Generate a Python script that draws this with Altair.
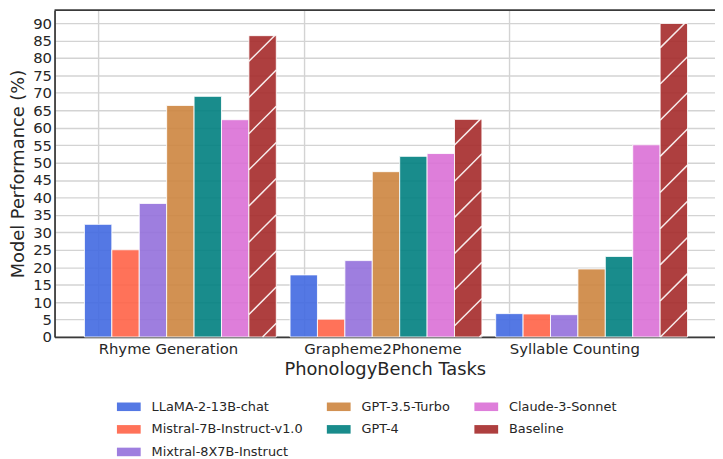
import json
import altair as alt
import pandas as pd

# ---------------- data ----------------
tasks = ["Rhyme Generation", "Grapheme2Phoneme", "Syllable Counting"]
models = [
    "LLaMA-2-13B-chat",
    "Mistral-7B-Instruct-v1.0",
    "Mixtral-8X7B-Instruct",
    "GPT-3.5-Turbo",
    "GPT-4",
    "Claude-3-Sonnet",
    "Baseline",
]
llama = [32.3, 17.8, 6.7]
mistral = [25.0, 5.1, 6.6]
mixtral = [38.3, 21.9, 6.4]
gpt35 = [66.4, 47.4, 19.5]
gpt4 = [69.0, 51.8, 23.1]
claude = [62.3, 52.6, 55.1]
baseline = [86.4, 62.4, 89.9]
series = [llama, mistral, mixtral, gpt35, gpt4, claude, baseline]
colors = ["#4169E1", "#FF6347", "#9370DB", "#CD853F", "#008080", "#DA70D6", "#A52A2A"]
y_ticks = list(range(0, 95, 5))

# ---------------- layout constants ----------------
BAR_W = 0.1333
X_DOMAIN = [-0.212, 3.0]
Y_DOMAIN = [0, 93.7]
W, H = 667, 330
TEXT = "#262626"
SPINE = "#3a3a3a"
GRID = "#d3d3d3"
FONT = "DejaVu Sans"

rows = []
for mi, (m, vals) in enumerate(zip(models, series)):
    for ti, (t, v) in enumerate(zip(tasks, vals)):
        rows.append({"task": t, "model": m, "value": v, "ti": ti, "mi": mi})
df = pd.DataFrame(rows)

# hatch ("/") segments for the Baseline bars, derived from the baseline values
S = (W / (X_DOMAIN[1] - X_DOMAIN[0])) / (H / (Y_DOMAIN[1] - Y_DOMAIN[0]))
P = 10.37
C = 4.7
hatch = []
bi = models.index("Baseline")
for ti, T in enumerate(baseline):
    xl = ti + bi * BAR_W - BAR_W / 2
    xr = xl + BAR_W
    vl = (S * xl + C) % P - P
    while vl < T:
        vr = vl + S * BAR_W
        if vr > 0:
            x1, y1, x2, y2 = xl, vl, xr, vr
            if vl < 0:
                x1, y1 = xl + (-vl) / S, 0.0
            if vr > T:
                x2, y2 = xl + (T - vl) / S, T
            hatch.append({"xl": x1, "xr": x2, "value": y1, "value2": y2})
        vl += P
hdf = pd.DataFrame(hatch)

# legend order arranged so that a row-major layout reproduces the column-major legend
legend_order = [models[i] for i in [0, 3, 5, 1, 4, 6, 2]]
legend_colors = [colors[models.index(m)] for m in legend_order]

label_expr = json.dumps(tasks) + "[datum.value]"

x_enc = alt.X(
    "xl:Q",
    scale=alt.Scale(domain=X_DOMAIN, nice=False, zero=False),
    axis=alt.Axis(
        values=[0, 1, 2],
        labelExpr=label_expr,
        labelAlign="left",
        title="PhonologyBench Tasks",
    ),
)
y_enc = alt.Y(
    "value:Q",
    scale=alt.Scale(domain=Y_DOMAIN, nice=False),
    axis=alt.Axis(values=y_ticks, title="Model Performance (%)"),
)

bars = (
    alt.Chart(df)
    .transform_calculate(
        xl=f"datum.ti + datum.mi * {BAR_W} - {BAR_W / 2}",
        xr=f"datum.ti + datum.mi * {BAR_W} + {BAR_W / 2}",
    )
    .mark_bar(fillOpacity=0.9, stroke="white", strokeWidth=1, strokeOpacity=0.85)
    .encode(
        x=x_enc,
        x2="xr:Q",
        y=y_enc,
        y2=alt.datum(0),
        color=alt.Color(
            "model:N",
            scale=alt.Scale(domain=legend_order, range=legend_colors),
            legend=alt.Legend(
                title=None,
                values=legend_order,
                orient="none",
                direction="horizontal",
                legendX=63,
                legendY=388.5,
                columns=3,
                columnPadding=24,
                rowPadding=3.8,
                symbolType="M-1,-0.36L1,-0.36L1,0.36L-1,0.36Z",
                symbolSize=576,
                symbolStrokeWidth=0,
                symbolOpacity=0.9,
                labelOffset=11,
                labelFontSize=13,
                labelLimit=400,
                labelColor=TEXT,
                labelFont=FONT,
                padding=0,
            ),
        ),
    )
)

hatch_layer = (
    alt.Chart(hdf)
    .mark_rule(color="white", strokeWidth=1.5, opacity=0.9)
    .encode(x=x_enc, x2="xr:Q", y=y_enc, y2="value2:Q")
)

top_spine = (
    alt.Chart(pd.DataFrame({"a": [0]}))
    .mark_rule(color=SPINE, strokeWidth=1.8)
    .encode(x=alt.value(0), x2=alt.value(W), y=alt.value(0))
)

chart = (
    alt.layer(bars, hatch_layer, top_spine)
    .properties(
        width=W,
        height=H,
        autosize=alt.AutoSizeParams(type="none"),
        padding={"left": 47, "top": 0, "right": 0, "bottom": 121},
    )
    .configure_view(stroke=None)
    .configure_axis(
        labelFont=FONT,
        titleFont=FONT,
        labelColor=TEXT,
        titleColor=TEXT,
        titleFontWeight="normal",
        ticks=False,
        domainColor=SPINE,
        domainWidth=1.8,
        gridColor=GRID,
        gridWidth=1.4,
    )
    .configure_axisY(labelFontSize=15, labelPadding=3, titleFontSize=18, titlePadding=5)
    .configure_axisX(labelFontSize=15, labelPadding=5, titleFontSize=18, titlePadding=4)
)

chart.save("out.html", embed_options={"renderer": "svg", "actions": False})
